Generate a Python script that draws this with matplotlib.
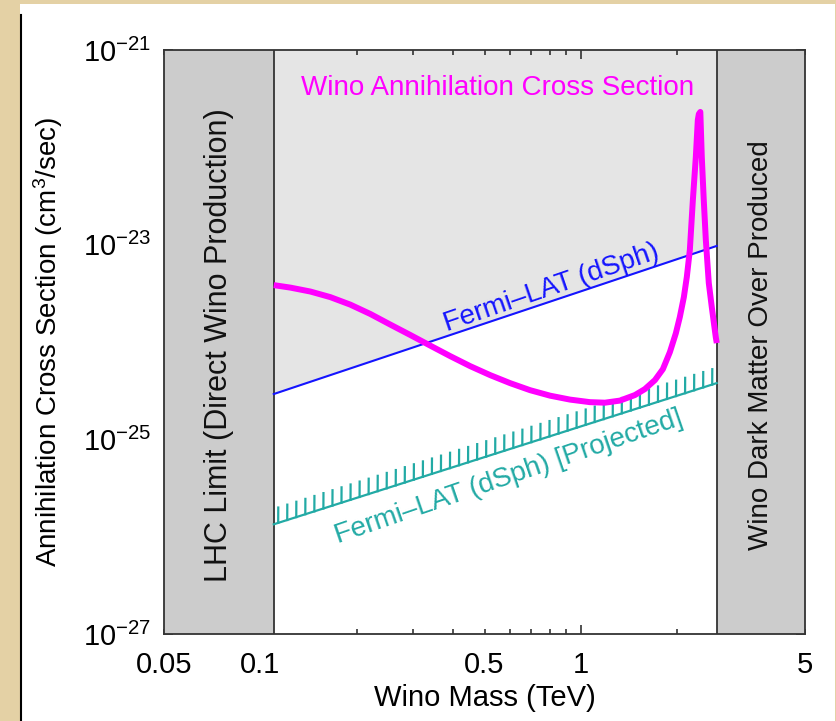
import numpy as np
import matplotlib
matplotlib.use('Agg')
import matplotlib.pyplot as plt
import matplotlib.patheffects as pe
from matplotlib.patches import Rectangle
from matplotlib.lines import Line2D

plt.rcParams['font.family'] = ['Liberation Sans', 'DejaVu Sans']
plt.rcParams['mathtext.fontset'] = 'custom'
plt.rcParams['mathtext.rm'] = 'Liberation Sans'
plt.rcParams['mathtext.it'] = 'Liberation Sans:italic'
plt.rcParams['mathtext.bf'] = 'Liberation Sans:bold'

# wino annihilation cross section (TeV, cm^3/s)
wino_mass = [0.11, 0.124, 0.1431, 0.1652, 0.1907, 0.2202, 0.2541, 0.2934, 0.3386, 0.3908,
             0.4511, 0.5206, 0.6009, 0.6936, 0.8006, 0.9241, 1.0666, 1.188, 1.323, 1.473,
             1.582, 1.701, 1.801, 1.894, 1.977, 2.034, 2.094, 2.139, 2.186, 2.234,
             2.282, 2.315, 2.332, 2.357, 2.382, 2.416, 2.452, 2.505, 2.559, 2.634, 2.653]
wino_sigma = [3.84e-24, 3.62e-24, 3.30e-24, 2.89e-24, 2.42e-24, 1.94e-24, 1.51e-24, 1.18e-24, 9.18e-25, 7.16e-25,
              5.65e-25, 4.57e-25, 3.78e-25, 3.20e-25, 2.81e-25, 2.56e-25, 2.41e-25, 2.38e-25, 2.50e-25, 2.85e-25,
              3.28e-25, 4.06e-25, 5.26e-25, 7.87e-25, 1.23e-24, 1.80e-24, 2.89e-24, 4.65e-24, 8.80e-24, 2.87e-23,
              7.95e-23, 1.91e-22, 2.20e-22, 2.31e-22, 7.95e-23, 2.87e-23, 1.12e-23, 4.03e-24, 2.29e-24, 1.12e-24, 9.74e-25]

# Fermi-LAT dwarf spheroidal limits (straight lines in log-log, end points)
lat_mass = [0.11, 2.65]
lat_limit = [2.92e-25, 9.7e-24]
lat_projected = [1.34e-26, 3.78e-25]

# excluded regions
lhc_limit = 0.11
overproduced = 2.65
xmin, xmax = 0.05, 5
ymin, ymax = 1e-27, 1e-21

xtick_major = [0.1, 1]
xtick_major_labels = ['0.1', '1']
xtick_labelled_minor = {0.05: '0.05', 0.5: '0.5', 5: '5'}
ydecades = [-27, -26, -25, -24, -23, -22, -21]

fig = plt.figure(figsize=(8.36, 7.21), dpi=100, facecolor='#e4d1a5')
fig.patches.append(Rectangle((20 / 836, 0), 815 / 836, 717 / 721, transform=fig.transFigure,
                             facecolor='white', edgecolor='none', zorder=-5))
fig.lines.append(Line2D([20.5 / 836, 20.5 / 836], [0, 1 - 15 / 721], transform=fig.transFigure,
                        color='black', lw=1.5))

ax = fig.add_axes([164 / 836, 1 - 634 / 721, 641 / 836, 584 / 721])
ax.set_xscale('log')
ax.set_yscale('log')
ax.set_xlim(xmin, xmax)
ax.set_ylim(ymin, ymax)
ax.set_facecolor('white')

# shaded regions
ax.fill_between(lat_mass, lat_limit, ymax, color='#e5e5e5', lw=0, zorder=1)
ax.axvspan(xmin, lhc_limit, color='#cccccc', lw=0, zorder=2)
ax.axvspan(overproduced, xmax, color='#cccccc', lw=0, zorder=2)
ax.axvline(lhc_limit, color='#333333', lw=1.3, zorder=3)
ax.axvline(overproduced, color='#333333', lw=1.3, zorder=3)

# limits
ax.plot(lat_mass, lat_limit, color='#1414ff', lw=1.5, zorder=4)
ax.plot(lat_mass, lat_projected, color='#22aaa5', lw=1.6, zorder=4,
        path_effects=[pe.withTickedStroke(spacing=6.7, angle=72, length=1.65)])

# wino curve
ax.plot(wino_mass, wino_sigma, color='#ff00ff', lw=4.3, zorder=5,
        solid_joinstyle='round', solid_capstyle='butt')

# texts
ax.text(0.52, 0.935, 'Wino Annihilation Cross Section', transform=ax.transAxes,
        color='#ff00ff', fontsize=20, ha='center', va='center', zorder=6)
ax.text(0.605, 0.592, 'Fermi\u2013LAT (dSph)', transform=ax.transAxes,
        color='#1414ff', fontsize=20, ha='center', va='center', rotation=19, zorder=6)
ax.text(0.538, 0.269, 'Fermi\u2013LAT (dSph) [Projected]', transform=ax.transAxes,
        color='#22aaa5', fontsize=20, ha='center', va='center', rotation=19, zorder=6)
ax.text(np.sqrt(xmin * lhc_limit), 0.495, 'LHC Limit (Direct Wino Production)',
        transform=ax.get_xaxis_transform(), rotation=90, fontsize=22,
        ha='center', va='center', color='#111111', zorder=6)
ax.text(np.sqrt(overproduced * xmax), 0.495, 'Wino Dark Matter Over Produced',
        transform=ax.get_xaxis_transform(), rotation=90, fontsize=20,
        ha='center', va='center', color='#111111', zorder=6)

# ticks
minor_x = [m * 10.0 ** e for e in (-2, -1, 0) for m in range(2, 10)
           if xmin <= m * 10.0 ** e <= xmax]
minor_x_labels = [xtick_labelled_minor.get(round(v, 3), '') for v in minor_x]
ax.set_xticks(xtick_major, labels=xtick_major_labels)
ax.set_xticks(minor_x, labels=minor_x_labels, minor=True)

ax.set_yticks([10.0 ** d for d in ydecades],
              labels=['$10^{%d}$' % d if d % 2 else '' for d in ydecades])
ax.set_yticks([m * 10.0 ** d for d in ydecades[:-1] for m in (2, 5)], minor=True)
ax.yaxis.set_minor_formatter(plt.NullFormatter())

ax.tick_params(which='both', direction='in', top=True, right=True,
               labelsize=21, color='#222222', width=1.1)
ax.tick_params(which='major', length=6.5)
ax.tick_params(which='minor', length=3.6)
ax.tick_params(axis='x', which='both', pad=12)
ax.tick_params(axis='y', which='both', pad=9)

for s in ax.spines.values():
    s.set_color('#333333')
    s.set_linewidth(1.3)
    s.set_zorder(7)

ax.set_xlabel('Wino Mass (TeV)', fontsize=21)
ax.xaxis.set_label_coords(0.5, -0.085)
ax.set_ylabel('Annihilation Cross Section (cm$^3$/sec)', fontsize=20)
ax.yaxis.set_label_coords(-0.155, 0.5)

fig.savefig('out.png', dpi=100, facecolor=fig.get_facecolor())
